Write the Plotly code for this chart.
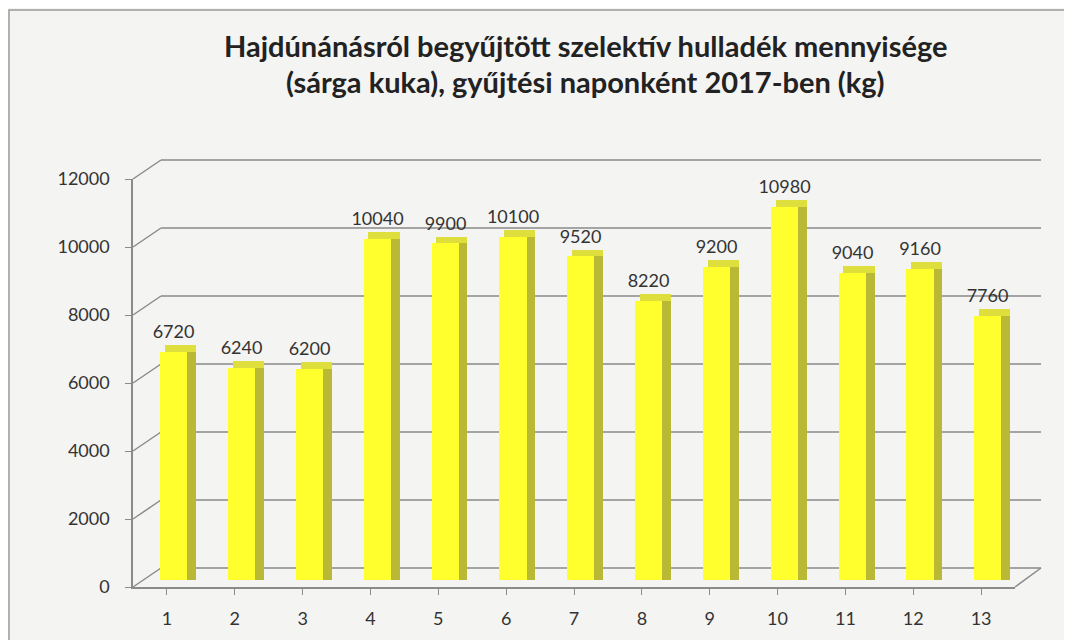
import plotly.graph_objects as go

categories = [str(i) for i in range(1, 14)]
values = [6720, 6240, 6200, 10040, 9900, 10100, 9520, 8220, 9200, 10980, 9040, 9160, 7760]
y_ticks = [0, 2000, 4000, 6000, 8000, 10000, 12000]
y_max = 12000
title_lines = ["Hajdúnánásról begyűjtött szelektív hulladék mennyisége",
               "(sárga kuka), gyűjtési naponként 2017-ben (kg)"]

xs = list(range(1, 14))
FONT = "Lato, 'Open Sans', sans-serif"

# plot-area geometry (pixels)
W, H = 1072, 640
L, R, T, B = 125, 65, 171, 61
PH = H - T - B            # plot height in px
LIFT = 7                  # bars sit slightly behind the front axis
DX, DY, BACK_END = 28, 19, 908
TOP_DEPTH = 200           # visual thickness of the top face (style)

fig = go.Figure()

bar_dom = [LIFT / PH, 1]
bar_rng = [0, y_max * (PH - LIFT) / PH]

# invisible carrier so the front axes are drawn
fig.add_trace(go.Scatter(x=xs, y=values, mode="markers", marker=dict(opacity=0),
                         hoverinfo="skip", showlegend=False))
# side face
fig.add_trace(go.Bar(x=xs, y=[v + TOP_DEPTH for v in values], width=0.13, offset=0.30,
                     marker=dict(color="#b9b935", line=dict(width=0)),
                     hoverinfo="skip", showlegend=False, xaxis="x2", yaxis="y2"))
# top face
fig.add_trace(go.Bar(x=xs, y=[TOP_DEPTH] * len(values), base=values, width=0.46, offset=-0.03,
                     marker=dict(color="#dede3c", line=dict(width=0)),
                     hoverinfo="skip", showlegend=False, xaxis="x2", yaxis="y2"))
# front face
fig.add_trace(go.Bar(x=xs, y=values, width=0.40, offset=-0.10,
                     marker=dict(color="#ffff2e", line=dict(width=0)),
                     showlegend=False, xaxis="x2", yaxis="y2"))
# labels (transparent carrier above the top face)
fig.add_trace(go.Bar(x=xs, y=[TOP_DEPTH] * len(values), base=values, width=0.40, offset=-0.10,
                     marker=dict(color="rgba(0,0,0,0)", line=dict(width=0)),
                     text=[str(v) for v in values], textposition="outside",
                     constraintext="none", cliponaxis=False,
                     textfont=dict(family=FONT, size=18, color="#333333"),
                     hoverinfo="skip", showlegend=False, xaxis="x2", yaxis="y2"))

shapes = []
grid_line = dict(color="#8a8a8a", width=1.5)
for t in y_ticks:
    yp = t / y_max
    shapes.append(dict(type="line", xref="paper", yref="paper", xsizemode="pixel",
                       ysizemode="pixel", xanchor=0, yanchor=yp,
                       x0=0, x1=DX, y0=0, y1=DY, line=grid_line, layer="below"))
    shapes.append(dict(type="line", xref="paper", yref="paper", xsizemode="pixel",
                       ysizemode="pixel", xanchor=0, yanchor=yp,
                       x0=DX, x1=BACK_END, y0=DY, y1=DY, line=grid_line, layer="below"))
# floor right edge
shapes.append(dict(type="line", xref="paper", yref="paper", xsizemode="pixel",
                   ysizemode="pixel", xanchor=1, yanchor=0,
                   x0=0, x1=BACK_END - (W - L - R), y0=0, y1=DY, line=grid_line, layer="below"))
# chart border
shapes.append(dict(type="rect", xref="paper", yref="paper", xsizemode="pixel",
                   ysizemode="pixel", xanchor=0, yanchor=1,
                   x0=-(L - 1), x1=W, y0=T - 2, y1=-(H - T) - 20,
                   line=dict(color="#9a9a9a", width=1.5), fillcolor="rgba(0,0,0,0)"))

annotations = []
for i, line in enumerate(title_lines):
    fy = 37 + 37 * i   # figure y of line centre
    annotations.append(dict(text="<b>" + line + "</b>", xref="paper", yref="paper",
                            x=(577 - L) / (W - L - R), y=(H - B - fy) / PH,
                            xanchor="center", yanchor="middle", showarrow=False,
                            font=dict(family=FONT, size=29, color="#222222")))

fig.update_layout(
    width=W, height=H,
    margin=dict(l=L, r=R, t=T, b=B),
    paper_bgcolor="#f4f4f2", plot_bgcolor="rgba(0,0,0,0)",
    barmode="overlay", bargap=0,
    xaxis=dict(domain=[0, 1], tickmode="array", tickvals=xs, ticktext=categories,
               range=[0.5, 13.5], showgrid=False, showline=True,
               linecolor="#8a8a8a", linewidth=1.5, ticks="outside",
               tickson="boundaries", ticklen=6, tickcolor="#8a8a8a",
               ticklabelstandoff=9, fixedrange=True,
               tickfont=dict(family=FONT, size=18, color="#333333"), zeroline=False),
    yaxis=dict(domain=[0, 1], tickmode="array", tickvals=y_ticks,
               ticktext=[str(t) for t in y_ticks],
               range=[0, y_max], showgrid=False, showline=True, linecolor="#8a8a8a",
               linewidth=1.5, ticks="outside", ticklen=6, tickcolor="#8a8a8a",
               zeroline=False, ticklabelstandoff=12, fixedrange=True,
               tickfont=dict(family=FONT, size=18, color="#333333")),
    xaxis2=dict(domain=[0, 1], range=[0.5, 13.5], anchor="y2", visible=False),
    yaxis2=dict(domain=bar_dom, range=bar_rng, anchor="x2", visible=False),
    shapes=shapes,
    annotations=annotations,
)

fig.write_html("out.html")
